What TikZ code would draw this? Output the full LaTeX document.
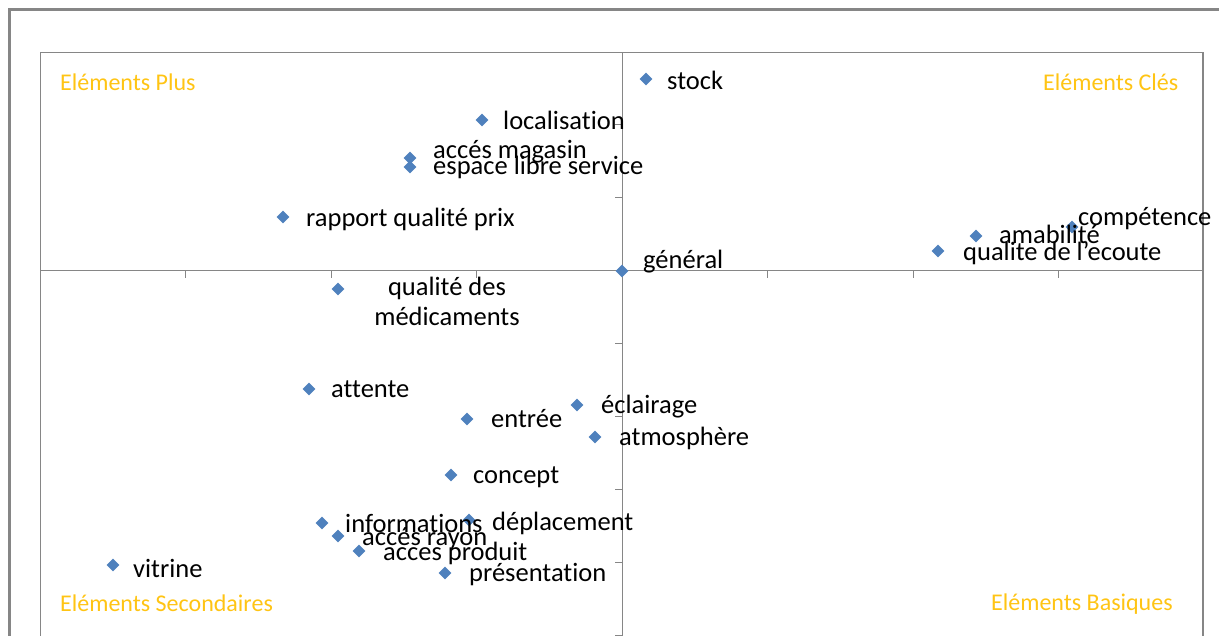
\documentclass[tikz,border=0pt]{standalone}
\usepackage{fontspec}
\setmainfont{Carlito}[Ligatures=NoCommon]
\usetikzlibrary{shapes.geometric}
\definecolor{ptblue}{RGB}{79,129,189}
\definecolor{quadorange}{RGB}{255,196,20}
\definecolor{framegray}{RGB}{134,134,134}
\tikzset{
  pt/.style={diamond, fill=ptblue, draw=none, inner sep=0pt, minimum size=13pt},
  lbl/.style={anchor=base west, inner sep=0pt, font=\fontsize{26.5}{30}\selectfont, text=black},
  quad/.style={anchor=base west, inner sep=0pt, font=\fontsize{24}{28}\selectfont, text=quadorange},
  axisline/.style={draw=framegray, line width=1pt},
}
\begin{document}
\begin{tikzpicture}[x=1pt,y=-1pt]
\useasboundingbox (0,0) rectangle (1219,635);
\begin{scope}
\clip (0,0) rectangle (1219,635);
% outer frame (cropped)
\draw[draw=framegray, line width=3pt] (9.5,9) rectangle (1240,660);
% inner plot frame
\draw[draw=framegray, line width=1pt] (40.5,640) -- (40.5,52.5) -- (1203,52.5);
\draw[draw=framegray, line width=2.5pt] (1203,52) -- (1203,640);
% axes
\draw[axisline] (40,270.5) -- (1203,270.5);
\draw[axisline] (622,52) -- (622,640);
\foreach \k in {1,...,7} \draw[axisline] ({40+145.5*\k},270.5) -- ++(0,7);
\foreach \k in {1,...,8} \draw[axisline] (622,{51+73*\k}) -- ++(-7,0);
\end{scope}
% quadrant labels
\node[quad] (qplus) at (60,90) {Eléments Plus};
\node[quad] (qcles) at (1043,90) {Eléments Clés};
\node[quad] (qsec) at (60,611) {Eléments Secondaires};
\node[quad] (qbas) at (991,610) {Eléments Basiques};
% points
\node[pt] (p1) at (646,79) {};
\node[pt] (p2) at (482,120) {};
\node[pt] (p3) at (410,158) {};
\node[pt] (p4) at (410,167) {};
\node[pt] (p5) at (283,217) {};
\node[pt] (p6) at (1072,227) {};
\node[pt] (p7) at (976,236) {};
\node[pt] (p8) at (938,251) {};
\node[pt] (p9) at (622,271) {};
\node[pt] (p10) at (338,289) {};
\node[pt] (p11) at (309,389) {};
\node[pt] (p12) at (577,405) {};
\node[pt] (p13) at (467,419) {};
\node[pt] (p14) at (595,437) {};
\node[pt] (p15) at (451,475) {};
\node[pt] (p16) at (322,523) {};
\node[pt] (p17) at (469,520) {};
\node[pt] (p18) at (338,536) {};
\node[pt] (p19) at (359,551) {};
\node[pt] (p20) at (445,573) {};
\node[pt] (p21) at (113,565) {};
% labels
\node[lbl] (l1) at (667,89) {stock};
\node[lbl] (l2) at (503,129) {localisation};
\node[lbl] (l3) at (433,158) {accés magasin};
\node[lbl] (l4) at (433,174) {espace libre service};
\node[lbl] (l5) at (306,226) {rapport qualité prix};
\node[lbl] (l6) at (1078,225) {compétence};
\node[lbl] (l7) at (999,243) {amabilité};
\node[lbl] (l8) at (963,260) {qualite de l\char"0027 ecoute};
\node[lbl] (l9) at (643,268) {général};
\node[lbl, anchor=base, align=center, font=\fontsize{26.5}{30}\selectfont] (l10) at (447,325) {qualité des\\médicaments};
\node[lbl] (l11) at (331,397) {attente};
\node[lbl] (l12) at (601,413) {éclairage};
\node[lbl] (l13) at (491,427) {entrée};
\node[lbl] (l14) at (619,445) {atmosphère};
\node[lbl] (l15) at (473,483) {concept};
\node[lbl] (l16) at (345,532) {informations};
\node[lbl] (l17) at (492,530) {déplacement};
\node[lbl] (l18) at (362,545) {accés rayon};
\node[lbl] (l19) at (383,560) {acces produit};
\node[lbl] (l20) at (469,581) {présentation};
\node[lbl] (l21) at (133,577) {vitrine};
\end{tikzpicture}
\end{document}
